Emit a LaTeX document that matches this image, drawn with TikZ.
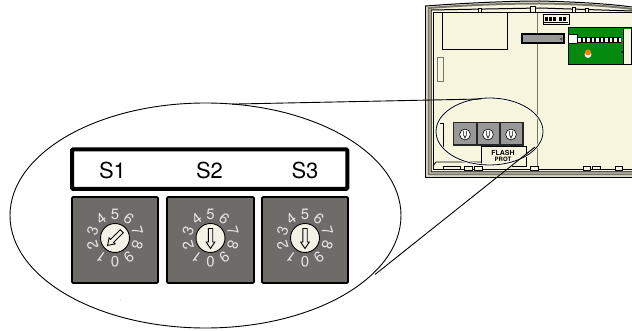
\documentclass[tikz,border=0pt]{standalone}
\usepackage{fontspec}
\setmainfont{TeX Gyre Heros}
\usetikzlibrary{calc,shapes.geometric}
\definecolor{cream}{HTML}{F8F5DE}
\definecolor{dialgrey}{HTML}{6E6C69}
\definecolor{dialface}{HTML}{F4F1E6}
\definecolor{pcbgreen}{HTML}{058A10}
\definecolor{rim}{HTML}{77776C}
\definecolor{blockgrey}{HTML}{989898}
\tikzset{
  oline/.style={draw=black,line width=0.9pt},
  dev/.style={draw=black,line width=1pt},
  dialbox/.style={draw=black,line width=1.7pt,fill=dialgrey,rounded corners=1pt},
  digit/.style={text=white!90!black,font=\fontsize{15}{15}\selectfont,inner sep=0pt},
  slabel/.style={font=\fontsize{22}{22}\selectfont,inner sep=0pt},
}
\newcommand{\rotdial}[4]{% x1, x2, pointer rotation, name
  \node[dialbox,minimum width=#2pt-#1pt,minimum height=86pt,inner sep=0pt] (#4) at ({(#1+#2)/2},240) {};
  \coordinate (c) at ({(#1+#2)/2},238);
  \foreach \k in {0,...,9}{
    \pgfmathsetmacro{\ang}{270-36*\k}
    \pgfmathsetmacro{\rot}{(5-\k)*36}
    \node[digit,rotate=\rot] at ($(c)+({23.5*cos(\ang)},{-23.5*sin(\ang)})$) {\k};
  }
  \fill[dialface,draw=black,line width=0.9pt] (c) circle (14.5);
  \begin{scope}[shift={(c)},rotate=#3]
    \draw[black,line width=0.9pt,fill=dialface,line join=miter]
      (-2.2,-9.5) -- (2.2,-9.5) -- (2.2,4) -- (4.3,4) -- (0,10.5) -- (-4.3,4) -- (-2.2,4) -- cycle;
  \end{scope}
}
\newcommand{\smalldial}[1]{%
  \fill[white,draw=black,line width=0.6pt] (#1,134.5) circle (5.4);
  \draw[black,line width=0.6pt] (#1-1.4,131) -- (#1-1.4,135) (#1+1.4,131) -- (#1+1.4,135) (#1-1.4,135) -- (#1,138) -- (#1+1.4,135);
}
\begin{document}
\begin{tikzpicture}[x=1pt,y=-1pt]
\useasboundingbox (0,0) rectangle (632,331);
% --- device ---
\fill[white] (0,0) rectangle (632,331);
\path[fill=cream] (425,6) .. controls (480,2) and (520,1) .. (540,1) .. controls (580,2) and (610,4) .. (632,7) -- (632,178) -- (425,178) -- cycle;
\draw[dev] (632,7) .. controls (610,4) and (580,2) .. (540,1) .. controls (520,1) and (480,2) .. (425.5,6) -- (425.5,177.5) -- (632,177.5);
\draw[rim,line width=2pt] (632,9) .. controls (610,6) and (580,4) .. (540,3.5) .. controls (520,3.5) and (480,4) .. (428.5,8) -- (428.5,174.5) -- (632,174.5);
\draw[dev] (632,11) -- (540,8) -- (431,10) -- (431,172) -- (632,172);
\draw[dev] (433,13) -- (632,13);
\draw[dev] (433,13) -- (433,169.5) -- (632,169.5);
\draw[rim,line width=0.7pt] (537,13) -- (537,169);
\draw[dev] (442,13) rectangle (507,50);
\draw[draw=rim,line width=1pt,fill=cream] (437,58) rectangle (443,82);
% top details
\draw[dev,fill=cream] (478,9) rectangle (481,13);
\draw[dev,fill=cream] (530,7) rectangle (535,13);
\draw[dev,fill=cream] (572,8) rectangle (575,13);
\draw[dev,fill=cream] (585,9) rectangle (588,13);
\draw[dev,fill=cream] (543,15) rectangle (569,25);
\foreach \x in {545,549,553,559,563}{\fill[black] (\x,17) rectangle (\x+2.5,21);}
\draw[black,line width=0.5pt] (544,22) -- (568,22);
% bar
\draw[black,line width=1.1pt,fill=blockgrey] (522,34) rectangle (564,43);
\fill[black!70] (561,39) circle (1.5);
% pcb
\draw[black,line width=1pt,fill=pcbgreen] (568,28) rectangle (631,65);
\fill[cream] (623.5,29) rectangle (630.5,64.5);
\draw[black,line width=0.8pt] (623.5,29) -- (623.5,65);
\draw[black,line width=0.6pt,fill=white] (568,34) rectangle (577,43);
\fill[black] (577,37.5) rectangle (621,43);
\foreach \x in {578,582.5,...,620}{\fill[white] (\x,38.5) rectangle (\x+2.7,42);}
\fill[white] (588,54.5) circle (3.4);
\fill[orange] (588,52.5) circle (3);
\fill[black] (622,52) circle (0.8);
% switch block
\draw[black,line width=0.8pt] (440,123) -- (443,123) -- (443,147);
\draw[black,line width=0.7pt] (481,166) -- (481,146) -- (526,146) -- (526,166) -- (512,166);
\node[inner sep=0pt,font=\bfseries\fontsize{7}{7}\selectfont] (flash) at (503,153) {FLASH};
\node[inner sep=0pt,font=\bfseries\fontsize{6}{6}\selectfont] (prot) at (503,159.5) {PROT};
\draw[black!85,line width=1.6pt,fill=blockgrey] (453.5,122.5) rectangle (523,145);
\draw[black!85,line width=1.4pt] (477,122) -- (477,145) (500,122) -- (500,145);
\smalldial{465}\smalldial{488}\smalldial{511}
% bottom clips
\draw[dev,line width=0.8pt] (433,166) -- (436,162) -- (481,162);
\draw[dev,fill=cream] (443,167) rectangle (460,170);
\draw[dev,fill=cream] (464,167) rectangle (472,171);
\draw[dev,fill=cream] (474,167) rectangle (482,171);
\draw[dev,fill=cream] (530,167) rectangle (538,171);
\draw[dev,fill=cream] (583,167) rectangle (590,171);
\draw[dev,fill=cream] (592,167) rectangle (600,170);
\draw[dev,fill=cream] (615,167) rectangle (622,171);
% --- small ellipse ---
\draw[white,line width=2.4pt] (489.5,131.5) ellipse (53.5 and 33.5);
\node[draw=black,line width=0.8pt,ellipse,minimum width=107pt,minimum height=67pt,inner sep=0pt] (small) at (489.5,131.5) {};
% --- big ellipse ---
\node[oline,ellipse,minimum width=391pt,minimum height=225pt,inner sep=0pt] (big) at (205.5,215.5) {};
\coordinate (t1) at (232,104.1);
\coordinate (t2) at (481,99);
\coordinate (b1) at (375,274.5);
\coordinate (b2) at (535,147);
\draw[oline] (t1) -- (t2);
\draw[oline] (b1) -- (b2);
% --- labels bar ---
\draw[black,line width=4pt,rounded corners=1pt] (72,149.5) rectangle (347.3,188.8);
\node[slabel] (s1) at (112.5,170.5) {S1};
\node[slabel] (s2) at (209.5,170.5) {S2};
\node[slabel] (s3) at (305,170.5) {S3};
% --- rotary switches ---
\rotdial{72}{158}{-45}{d1}
\rotdial{167}{254}{0}{d2}
\rotdial{262}{348}{0}{d3}
\fill[red!40] (120,300.5) circle (0.5);
\end{tikzpicture}
\end{document}
